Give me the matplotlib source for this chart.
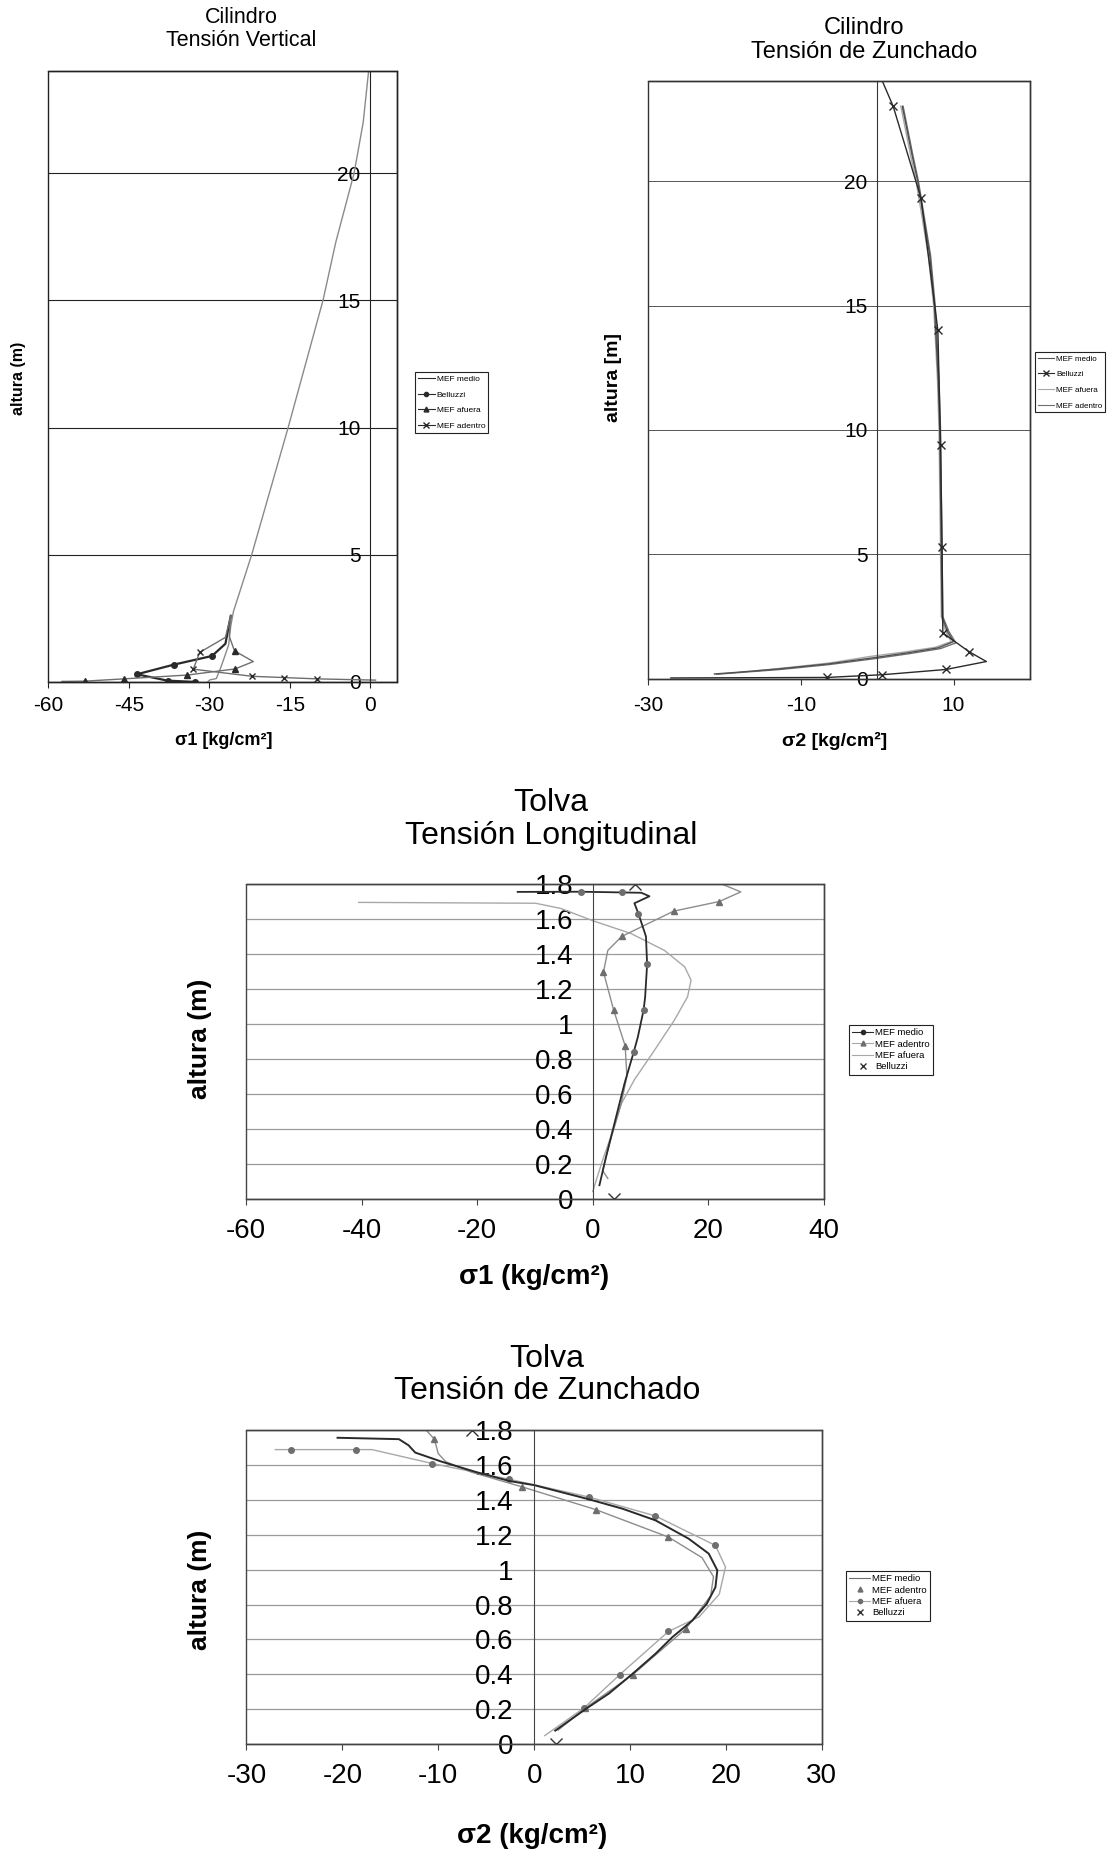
import numpy as np
import matplotlib
matplotlib.use("Agg")
import matplotlib.pyplot as plt
import matplotlib.ticker as ticker
from matplotlib.patches import Rectangle
from matplotlib.lines import Line2D

plt.rcParams["font.family"] = ["Liberation Sans", "DejaVu Sans"]
NARROW = ["Liberation Sans Narrow", "Liberation Sans", "DejaVu Sans"]

# ─── Cilindro – Tensión Vertical (σ1) ─────────────────────────────
c1_medio_x = [-0.3, -1.3, -3.0, -6.4, -8.8, -15.3, -22.1, -25.5, -26.0, -26.4, -27.8, -28.7, -29.9, -30.3]
c1_medio_y = [24.0, 22.0, 20.0, 17.3, 15.0, 10.0, 5.0, 2.77, 2.2, 1.45, 0.6, 0.13, 0.08, 0.0]
c1_bell_x = [-26.0, -27.0, -29.5, -36.6, -43.5, -37.8, -32.6]
c1_bell_y = [2.6, 1.5, 1.02, 0.68, 0.3, 0.05, 0.0]
c1_afue_x = [-26.0, -26.3, -25.3, -21.8, -25.2, -34.1, -45.9, -53.2, -57.5]
c1_afue_y = [2.6, 1.8, 1.22, 0.8, 0.51, 0.27, 0.12, 0.03, 0.02]
c1_aden_x = [-26.0, -27.0, -31.8, -33.0, -22.0, -16.0, -10.0, 1.0]
c1_aden_y = [2.6, 1.75, 1.16, 0.5, 0.22, 0.17, 0.12, 0.07]

# ─── Cilindro – Tensión de Zunchado (σ2) ──────────────────────────
c2_bell_x = [0.7, 2.1, 5.75, 7.95, 8.3, 8.5, 8.6, 12.0, 14.3, 9.0, 0.7, -6.6, -27.0]
c2_bell_y = [24.0, 23.0, 19.3, 14.0, 9.4, 5.3, 1.85, 1.1, 0.7, 0.38, 0.17, 0.06, 0.04]
c2_medio_x = [3.3, 4.6, 5.3, 6.9, 7.5, 8.0, 8.2, 8.4, 8.5, 9.2, 10.0, 8.0, 4.0, -0.5, -6.5, -13.0, -19.0, -21.3]
c2_medio_y = [23.0, 21.0, 20.0, 17.0, 15.0, 12.0, 10.0, 5.0, 2.5, 1.9, 1.5, 1.25, 1.05, 0.85, 0.6, 0.4, 0.25, 0.2]
c2_afue_x = [3.1, 4.4, 5.1, 6.7, 7.4, 7.9, 8.1, 8.3, 8.4, 9.0, 9.7, 7.6, 3.5, -1.0, -6.0, -11.0, -15.7]
c2_afue_y = [23.0, 21.0, 20.0, 17.0, 15.0, 12.0, 10.0, 5.0, 2.5, 1.9, 1.5, 1.27, 1.08, 0.9, 0.65, 0.48, 0.33]
c2_aden_x = [3.4, 4.7, 5.4, 7.0, 7.6, 8.1, 8.3, 8.5, 8.6, 9.4, 10.3, 8.3, 4.3, -0.2, -6.2, -12.7, -18.8, -21.0]
c2_aden_y = [23.0, 21.0, 20.0, 17.0, 15.0, 12.0, 10.0, 5.0, 2.5, 1.9, 1.45, 1.22, 1.02, 0.82, 0.58, 0.38, 0.24, 0.19]

# ─── Tolva – Tensión Longitudinal (σ1) ────────────────────────────
t1_medio_x = [-13.0, -2.1, 5.0, 8.4, 9.8, 7.2, 7.9, 9.2, 9.4, 9.06, 8.8, 7.8, 7.1, 5.5, 3.75, 2.3, 1.15]
t1_medio_y = [1.755, 1.756, 1.752, 1.75, 1.73, 1.69, 1.63, 1.50, 1.34, 1.155, 1.08, 0.925, 0.84, 0.66, 0.43, 0.24, 0.076]
t1_aden_x = [21.8, 25.6, 21.9, 14.0, 5.0, 2.6, 1.85, 3.6, 5.6, 5.9, 4.9, 3.2, 1.7, 2.6]
t1_aden_y = [1.807, 1.755, 1.70, 1.645, 1.50, 1.42, 1.296, 1.08, 0.874, 0.70, 0.54, 0.35, 0.16, 0.115]
t1_afue_x = [-40.5, -9.9, -5.5, 0.0, 6.6, 12.4, 15.9, 17.0, 16.4, 14.1, 10.7, 7.2, 4.9, 3.5, 1.7, 0.6, 0.0]
t1_afue_y = [1.695, 1.69, 1.66, 1.59, 1.517, 1.42, 1.326, 1.25, 1.155, 1.02, 0.85, 0.68, 0.54, 0.39, 0.22, 0.105, 0.04]
t1_bell_x = [7.3, 3.6]
t1_bell_y = [1.80, 0.0]

# ─── Tolva – Tensión de Zunchado (σ2) ─────────────────────────────
t2_medio_x = [-20.5, -14.1, -13.1, -12.4, -9.6, -6.1, -2.6, 0.0, 5.7, 9.2, 12.65, 16.1, 18.2, 19.1,
              18.9, 18.0, 16.5, 14.4, 12.65, 10.2, 7.8, 5.35, 2.2]
t2_medio_y = [1.758, 1.75, 1.715, 1.673, 1.62, 1.562, 1.51, 1.486, 1.405, 1.351, 1.284, 1.179, 1.093, 0.997,
              0.9, 0.805, 0.709, 0.613, 0.518, 0.40, 0.29, 0.20, 0.077]
t2_aden_x = [-11.4, -10.4, -10.0, -9.2, -6.5, -1.25, 6.4, 14.0, 17.5, 18.7, 18.4, 15.8, 10.3, 5.35, 2.5]
t2_aden_y = [1.81, 1.75, 1.667, 1.62, 1.56, 1.476, 1.346, 1.188, 1.07, 0.96, 0.85, 0.661, 0.399, 0.207, 0.08]
t2_afue_x = [-27.0, -25.4, -18.6, -16.9, -10.6, -2.6, 5.7, 12.65, 18.9, 19.95, 19.3, 17.2, 14.0, 8.9, 5.2, 1.1]
t2_afue_y = [1.69, 1.69, 1.69, 1.69, 1.61, 1.52, 1.418, 1.309, 1.14, 1.016, 0.86, 0.73, 0.646, 0.397, 0.207, 0.048]
t2_bell_x = [-6.5, 2.3]
t2_bell_y = [1.80, 0.0]

DARK, MID, LIGHT = "#2a2a2a", "#6e6e6e", "#a8a8a8"


def setup(ax, xlim, xticks, ylim, yticks, fsize, family, ypad, xpad,
          frame="#222222", grid="#222222", grid_lw=0.8):
    ax.set_xlim(*xlim)
    ax.set_ylim(*ylim)
    ax.set_xticks(xticks)
    ax.set_yticks(yticks)
    fmt = ticker.FuncFormatter(lambda v, p: f"{v:g}")
    ax.xaxis.set_major_formatter(fmt)
    ax.yaxis.set_major_formatter(fmt)
    for s in ("top", "right", "bottom"):
        ax.spines[s].set_color(frame)
        ax.spines[s].set_linewidth(1.0)
    ax.spines["left"].set_position(("data", 0))
    ax.spines["left"].set_color(frame)
    ax.spines["left"].set_linewidth(0.8)
    ax.add_patch(Rectangle((0, 0), 1, 1, transform=ax.transAxes, fill=False,
                           ec=frame, lw=1.0, zorder=5, clip_on=False))
    ax.yaxis.grid(True, color=grid, linewidth=grid_lw)
    ax.set_axisbelow(True)
    ax.tick_params(axis="y", length=0, pad=ypad, labelsize=fsize)
    ax.tick_params(axis="x", length=4, direction="out", pad=xpad, labelsize=fsize, color=frame)
    for lab in ax.get_xticklabels() + ax.get_yticklabels():
        lab.set_family(family)


def legend(ax, handles, labels, anchor, fsize, family, spacing=0.35, hlen=2.2):
    leg = ax.legend(handles, labels, loc="upper left", bbox_to_anchor=anchor,
                    bbox_transform=ax.figure.transFigure, fancybox=False,
                    framealpha=1, edgecolor="#222222",
                    prop={"family": family, "size": fsize},
                    handlelength=hlen, handletextpad=0.25, borderpad=0.35,
                    labelspacing=spacing, borderaxespad=0)
    leg.get_frame().set_linewidth(0.8)


fig = plt.figure(figsize=(11.12, 18.51), dpi=100)
fig.patch.set_facecolor("white")

# ═══ Panel 1 ═══
ax1 = fig.add_axes([0.0436, 0.6316, 0.3134, 0.3298])
setup(ax1, (-60, 5), [-60, -45, -30, -15, 0], (0, 24), [0, 5, 10, 15, 20],
      15, ["Liberation Sans", "DejaVu Sans"], ypad=7, xpad=6)
ax1.plot(c1_medio_x, c1_medio_y, color="#8a8a8a", lw=1.0)
ax1.plot(c1_bell_x, c1_bell_y, color=DARK, lw=1.6, marker="o", ms=4,
         markevery=[2, 3, 4, 5, 6])
ax1.plot(c1_afue_x, c1_afue_y, color=MID, lw=1.0, marker="^", ms=4.5, mfc=DARK, mec=DARK,
         markevery=[2, 4, 5, 6, 7])
ax1.plot(c1_aden_x, c1_aden_y, color=MID, lw=1.0, marker="x", ms=5, mec=DARK,
         markevery=[2, 3, 4, 5, 6])
legend(ax1, [Line2D([], [], color=DARK, lw=0.8),
             Line2D([], [], color=DARK, lw=0.8, marker="o", ms=3),
             Line2D([], [], color=DARK, lw=0.8, marker="^", ms=3.5),
             Line2D([], [], color=DARK, lw=0.8, marker="x", ms=4.5)],
       ["MEF medio", "Belluzzi", "MEF afuera", "MEF adentro"],
       (0.3732, 0.799), 6.0, ["Liberation Sans", "DejaVu Sans"], spacing=0.95, hlen=2.0)
fig.text(0.2167, 0.9843, "Cilindro\nTensión Vertical", ha="center", va="center",
         fontsize=15.5, linespacing=1.15)
fig.text(0.0162, 0.7958, "altura (m)", rotation=90, ha="center", va="center",
         fontsize=11.5, fontweight="bold")
fig.text(0.2014, 0.5997, "σ1 [kg/cm²]", ha="center", va="center",
         fontsize=13, fontweight="bold")

# ═══ Panel 2 ═══
ax2 = fig.add_axes([0.5827, 0.6332, 0.3435, 0.3228])
setup(ax2, (-30, 20), [-30, -10, 10], (0, 24), [0, 5, 10, 15, 20],
      15, ["Liberation Sans", "DejaVu Sans"], ypad=7, xpad=8,
      frame="#333333", grid="#555555", grid_lw=0.7)
ax2.plot(c2_afue_x, c2_afue_y, color=LIGHT, lw=1.0)
ax2.plot(c2_aden_x, c2_aden_y, color=MID, lw=1.0)
ax2.plot(c2_medio_x, c2_medio_y, color="#505050", lw=1.0)
ax2.plot(c2_bell_x, c2_bell_y, color=DARK, lw=1.0, marker="x", ms=6, mec=DARK,
         markevery=[1, 2, 3, 4, 5, 6, 7, 9, 10, 11])
legend(ax2, [Line2D([], [], color="#505050", lw=0.8),
             Line2D([], [], color=DARK, lw=0.8, marker="x", ms=5),
             Line2D([], [], color=LIGHT, lw=0.8),
             Line2D([], [], color=MID, lw=0.8)],
       ["MEF medio", "Belluzzi", "MEF afuera", "MEF adentro"],
       (0.9308, 0.8098), 5.8, ["Liberation Sans", "DejaVu Sans"], spacing=1.0, hlen=2.0)
fig.text(0.777, 0.9785, "Cilindro\nTensión de Zunchado", ha="center", va="center",
         fontsize=17, linespacing=1.1)
fig.text(0.552, 0.796, "altura [m]", rotation=90, ha="center", va="center",
         fontsize=14, fontweight="bold")
fig.text(0.7509, 0.5997, "σ2 [kg/cm²]", ha="center", va="center",
         fontsize=14, fontweight="bold")

# ═══ Panel 3 ═══
ax3 = fig.add_axes([0.2212, 0.3525, 0.5198, 0.1699])
setup(ax3, (-60, 40), [-60, -40, -20, 0, 20, 40], (0, 1.8),
      [0, 0.2, 0.4, 0.6, 0.8, 1.0, 1.2, 1.4, 1.6, 1.8],
      20, NARROW, ypad=14, xpad=10, frame="#444444", grid="#9a9a9a", grid_lw=0.9)
ax3.plot(t1_afue_x, t1_afue_y, color=LIGHT, lw=1.0)
ax3.plot(t1_aden_x, t1_aden_y, color="#8c8c8c", lw=1.0, marker="^", ms=4.5,
         mfc=MID, mec=MID, markevery=[2, 3, 4, 6, 7, 8])
ax3.plot(t1_medio_x, t1_medio_y, color=DARK, lw=1.3, marker="o", ms=4, mfc=MID, mec=MID,
         markevery=[1, 2, 6, 8, 10, 12])
ax3.plot(t1_bell_x, t1_bell_y, ls="none", marker="x", ms=8, mec="#333333", mew=1.0)
legend(ax3, [Line2D([], [], color=DARK, lw=0.8, marker="o", ms=3),
             Line2D([], [], color=LIGHT, lw=0.8, marker="^", ms=3.5, mfc=MID, mec=MID),
             Line2D([], [], color=LIGHT, lw=0.8),
             Line2D([], [], ls="none", marker="x", ms=5, mec="#333333")],
       ["MEF medio", "MEF adentro", "MEF afuera", "Belluzzi"],
       (0.7635, 0.4462), 6.8, NARROW, spacing=0.25)
fig.text(0.4955, 0.5573, "Tolva\nTensión Longitudinal", ha="center", va="center",
         fontsize=23, linespacing=1.1, family=NARROW)
fig.text(0.18, 0.4387, "altura (m)", rotation=90, ha="center", va="center",
         fontsize=19, fontweight="bold")
fig.text(0.4802, 0.3101, "σ1 (kg/cm²)", ha="center", va="center",
         fontsize=20, fontweight="bold", family=NARROW)

# ═══ Panel 4 ═══
ax4 = fig.add_axes([0.2216, 0.0578, 0.5175, 0.1694])
setup(ax4, (-30, 30), [-30, -20, -10, 0, 10, 20, 30], (0, 1.8),
      [0, 0.2, 0.4, 0.6, 0.8, 1.0, 1.2, 1.4, 1.6, 1.8],
      20, NARROW, ypad=15, xpad=10, frame="#444444", grid="#9a9a9a", grid_lw=0.9)
ax4.plot(t2_afue_x, t2_afue_y, color=LIGHT, lw=1.0, marker="o", ms=4, mfc=MID, mec=MID,
         markevery=[1, 2, 4, 5, 6, 7, 8, 12, 13, 14])
ax4.plot(t2_aden_x, t2_aden_y, color="#8c8c8c", lw=1.0, marker="^", ms=4.5, mfc=MID, mec=MID,
         markevery=[1, 5, 6, 7, 11, 12, 13])
ax4.plot(t2_medio_x, t2_medio_y, color=DARK, lw=1.4)
ax4.plot(t2_bell_x, t2_bell_y, ls="none", marker="x", ms=8, mec="#333333", mew=1.0)
legend(ax4, [Line2D([], [], color=MID, lw=0.8),
             Line2D([], [], ls="none", marker="^", ms=3.5, mfc=MID, mec=MID),
             Line2D([], [], color=LIGHT, lw=0.8, marker="o", ms=3, mfc=MID, mec=MID),
             Line2D([], [], ls="none", marker="x", ms=5, mec="#333333")],
       ["MEF medio", "MEF adentro", "MEF afuera", "Belluzzi"],
       (0.7608, 0.1513), 6.8, NARROW, spacing=0.25)
fig.text(0.4919, 0.2572, "Tolva\nTensión de Zunchado", ha="center", va="center",
         fontsize=23, linespacing=1.1, family=NARROW)
fig.text(0.18, 0.1413, "altura (m)", rotation=90, ha="center", va="center",
         fontsize=19, fontweight="bold")
fig.text(0.4784, 0.0081, "σ2 (kg/cm²)", ha="center", va="center",
         fontsize=20, fontweight="bold", family=NARROW)

fig.savefig("out.png", dpi=100, facecolor="white")
